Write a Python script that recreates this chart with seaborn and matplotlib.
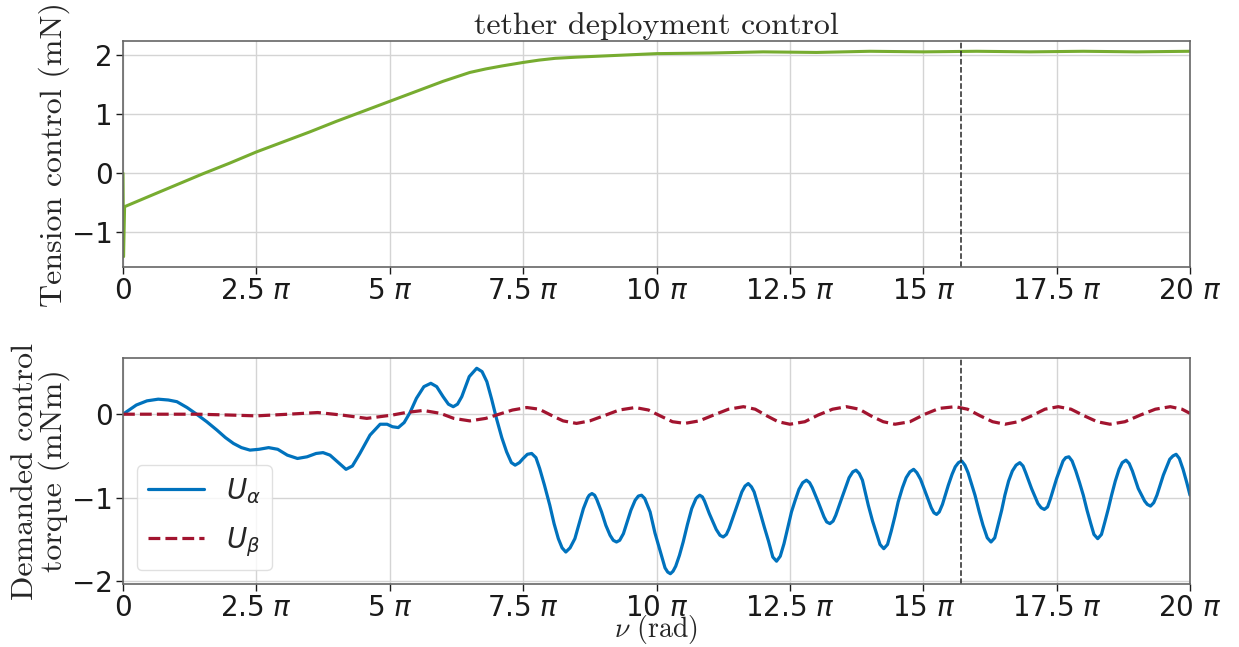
import numpy as np
import pandas as pd
import matplotlib
matplotlib.use("Agg")
import matplotlib.pyplot as plt
import seaborn as sns

PI = np.pi

# ---- data (x in multiples of pi) ----
tension_x = [0.0, 0.01, 0.03, 0.5, 1.0, 1.5, 2.0, 2.5, 3.0, 3.5, 4.0, 4.5, 5.0,
             5.5, 6.0, 6.5, 6.8, 7.1, 7.5, 7.8, 8.1, 8.5, 9.0, 9.5, 10.0, 11.0,
             12.0, 13.0, 14.0, 15.0, 16.0, 17.0, 18.0, 19.0, 20.0]
tension_y = [0.0, -1.42, -0.57, -0.39, -0.20, -0.01, 0.17, 0.36, 0.53, 0.70,
             0.88, 1.05, 1.22, 1.39, 1.56, 1.71, 1.77, 1.82, 1.88, 1.92, 1.95,
             1.97, 1.99, 2.01, 2.03, 2.04, 2.06, 2.05, 2.07, 2.06, 2.07, 2.06,
             2.07, 2.06, 2.07]

ualpha_x = [0.00, 0.25, 0.45, 0.66, 0.85, 1.01, 1.20, 1.38, 1.57, 1.76, 1.92,
            2.07, 2.22, 2.38, 2.55, 2.73, 2.90, 3.08, 3.27, 3.45, 3.62, 3.75,
            3.88, 4.02, 4.18, 4.30, 4.44, 4.63, 4.82, 4.95, 5.05, 5.16, 5.27,
            5.38, 5.50, 5.64, 5.77, 5.88, 6.00, 6.10, 6.19, 6.27, 6.35, 6.49,
            6.63, 6.73, 6.82, 6.91, 7.00, 7.10, 7.19, 7.28, 7.35, 7.43, 7.50,
            7.58, 7.66, 7.74, 7.81, 7.90, 8.00, 8.08, 8.16, 8.23, 8.30, 8.38,
            8.47, 8.55, 8.63, 8.71, 8.74, 8.79, 8.84, 8.88, 8.97, 9.05, 9.13,
            9.19, 9.25, 9.31, 9.38, 9.44, 9.52, 9.60, 9.66, 9.72, 9.78, 9.88,
            9.97, 10.06, 10.16, 10.21, 10.26, 10.31, 10.36, 10.43, 10.50, 10.58,
            10.66, 10.74, 10.77, 10.81, 10.86, 10.90, 10.99, 11.12, 11.19, 11.25,
            11.31, 11.36, 11.47, 11.60, 11.66, 11.72, 11.78, 11.83, 11.94, 12.02,
            12.10, 12.18, 12.25, 12.32, 12.39, 12.53, 12.60, 12.67, 12.74, 12.81,
            12.87, 12.92, 13.03, 13.14, 13.19, 13.25, 13.31, 13.36, 13.47, 13.61,
            13.68, 13.74, 13.80, 13.86, 13.97, 14.05, 14.12, 14.19, 14.26, 14.33,
            14.40, 14.47, 14.53, 14.61, 14.68, 14.75, 14.82, 14.88, 14.95, 15.05,
            15.15, 15.20, 15.25, 15.30, 15.36, 15.47, 15.54, 15.60, 15.66, 15.72,
            15.78, 15.84, 15.97, 16.05, 16.12, 16.20, 16.27, 16.34, 16.40, 16.47,
            16.53, 16.60, 16.67, 16.74, 16.81, 16.87, 16.92, 17.03, 17.15, 17.21,
            17.27, 17.33, 17.38, 17.50, 17.62, 17.67, 17.73, 17.79, 17.86, 17.93,
            18.00, 18.07, 18.14, 18.20, 18.27, 18.34, 18.40, 18.47, 18.53, 18.60,
            18.67, 18.73, 18.80, 18.86, 18.92, 19.03, 19.15, 19.20, 19.26, 19.32,
            19.38, 19.50, 19.62, 19.68, 19.74, 19.80, 19.87, 19.94, 20.00]
ualpha_y = [0.00, 0.11, 0.16, 0.18, 0.17, 0.15, 0.08, 0.00, -0.09, -0.19, -0.28,
            -0.35, -0.40, -0.43, -0.42, -0.40, -0.42, -0.49, -0.53, -0.51, -0.47,
            -0.46, -0.49, -0.57, -0.66, -0.62, -0.47, -0.25, -0.12, -0.12, -0.15,
            -0.16, -0.10, 0.02, 0.19, 0.33, 0.37, 0.33, 0.21, 0.12, 0.09, 0.12,
            0.21, 0.45, 0.55, 0.51, 0.39, 0.18, -0.05, -0.28, -0.45, -0.58,
            -0.61, -0.58, -0.53, -0.48, -0.47, -0.52, -0.65, -0.85, -1.09,
            -1.31, -1.49, -1.60, -1.65, -1.60, -1.49, -1.31, -1.13, -1.00,
            -0.97, -0.95, -0.97, -1.02, -1.17, -1.33, -1.45, -1.51, -1.53,
            -1.51, -1.43, -1.31, -1.15, -1.03, -0.98, -0.97, -1.01, -1.17,
            -1.42, -1.62, -1.84, -1.89, -1.91, -1.88, -1.82, -1.69, -1.53,
            -1.32, -1.13, -1.01, -0.99, -0.97, -0.99, -1.04, -1.19, -1.38,
            -1.45, -1.47, -1.44, -1.37, -1.17, -0.93, -0.86, -0.83, -0.87,
            -0.93, -1.17, -1.35, -1.52, -1.71, -1.76, -1.70, -1.55, -1.17,
            -1.03, -0.90, -0.82, -0.79, -0.82, -0.88, -1.05, -1.23, -1.29,
            -1.31, -1.28, -1.21, -1.01, -0.76, -0.69, -0.67, -0.71, -0.79,
            -1.09, -1.28, -1.42, -1.56, -1.61, -1.56, -1.40, -1.22, -1.05,
            -0.88, -0.76, -0.69, -0.66, -0.70, -0.78, -0.95, -1.12, -1.18,
            -1.20, -1.17, -1.08, -0.85, -0.72, -0.63, -0.58, -0.56, -0.61,
            -0.70, -0.97, -1.17, -1.33, -1.48, -1.53, -1.48, -1.33, -1.15,
            -0.97, -0.80, -0.68, -0.61, -0.58, -0.62, -0.70, -0.89, -1.07,
            -1.12, -1.14, -1.11, -1.02, -0.77, -0.56, -0.52, -0.51, -0.56,
            -0.68, -0.82, -0.97, -1.15, -1.31, -1.44, -1.49, -1.44, -1.30,
            -1.13, -0.97, -0.80, -0.66, -0.58, -0.55, -0.59, -0.68, -0.89,
            -1.04, -1.08, -1.10, -1.06, -0.97, -0.73, -0.54, -0.50, -0.48,
            -0.53, -0.66, -0.82, -0.97]

ubeta_x = [0.0, 1.4, 2.0, 2.5, 3.1, 3.65, 4.1, 4.57, 5.05, 5.3, 5.63, 5.95, 6.2,
           6.5, 6.8, 7.05, 7.3, 7.57, 7.8, 8.05, 8.25, 8.5, 8.75, 9.05, 9.3, 9.6,
           9.85, 10.07, 10.3, 10.53, 10.8, 11.07, 11.35, 11.63, 11.85, 12.07,
           12.28, 12.5, 12.78, 13.03, 13.3, 13.56, 13.8, 14.02, 14.25, 14.47,
           14.75, 15.03, 15.3, 15.6, 15.83, 16.07, 16.3, 16.53, 16.78, 17.03,
           17.28, 17.53, 17.77, 18.02, 18.26, 18.5, 18.78, 19.07, 19.35, 19.63,
           19.85, 20.0]
ubeta_y = [0.0, 0.0, -0.01, -0.02, 0.0, 0.02, -0.01, -0.05, -0.01, 0.02, 0.045,
           0.01, -0.05, -0.08, -0.05, 0.0, 0.05, 0.08, 0.06, -0.02, -0.08, -0.11,
           -0.08, -0.01, 0.05, 0.08, 0.05, -0.02, -0.09, -0.11, -0.08, -0.01,
           0.06, 0.09, 0.06, -0.02, -0.09, -0.12, -0.09, -0.01, 0.06, 0.09, 0.06,
           -0.02, -0.09, -0.12, -0.09, 0.0, 0.07, 0.09, 0.06, -0.02, -0.09, -0.12,
           -0.09, -0.02, 0.06, 0.09, 0.06, -0.02, -0.09, -0.12, -0.09, -0.01,
           0.06, 0.09, 0.06, 0.01]

xtick_vals = [0, 2.5, 5, 7.5, 10, 12.5, 15, 17.5, 20]
xtick_labels = ["0", r"2.5 $\pi$", r"5 $\pi$", r"7.5 $\pi$", r"10 $\pi$",
                r"12.5 $\pi$", r"15 $\pi$", r"17.5 $\pi$", r"20 $\pi$"]
event_x = 15.7

title = "tether deployment control"
ylabel_top = "Tension control (mN)"
ylabel_bot = "Demanded control\ntorque (mNm)"
xlabel = r"$\nu$ (rad)"

GREEN = "#77AC30"
BLUE = "#0072BD"
RED = "#A2142F"

sns.set_style("whitegrid", {
    "axes.edgecolor": "0.4",
    "grid.color": "0.83",
    "xtick.bottom": True,
    "ytick.left": True,
    "xtick.color": "0.1",
    "ytick.color": "0.1",
})
plt.rcParams["font.family"] = ["DejaVu Sans"]
plt.rcParams["font.size"] = 20

df_t = pd.DataFrame({"nu": np.array(tension_x) * PI, "T": tension_y})
df_a = pd.DataFrame({"nu": np.array(ualpha_x) * PI, "U": ualpha_y})
df_b = pd.DataFrame({"nu": np.array(ubeta_x) * PI, "U": ubeta_y})

fig = plt.figure(figsize=(12.39, 6.47), dpi=100)
W, H = 1239, 647
ax1 = fig.add_axes([123 / W, 1 - 267 / H, 1067 / W, 226 / H])
ax2 = fig.add_axes([123 / W, 1 - 584 / H, 1067 / W, 226 / H])

sns.lineplot(data=df_t, x="nu", y="T", ax=ax1, color=GREEN, lw=2.2,
             estimator=None, sort=False)
sns.lineplot(data=df_a, x="nu", y="U", ax=ax2, color=BLUE, lw=2.3,
             estimator=None, sort=False, label=r"$U_\alpha$")
sns.lineplot(data=df_b, x="nu", y="U", ax=ax2, color=RED, lw=2.3,
             estimator=None, sort=False, linestyle="--", label=r"$U_\beta$")

for ax in (ax1, ax2):
    ax.set_xlim(0, 20 * PI)
    ax.set_xticks(np.array(xtick_vals) * PI)
    ax.set_xticklabels(xtick_labels)
    ax.tick_params(labelsize=20, length=5, width=1, pad=2.5)
    ax.axvline(event_x * PI, color="0.15", ls="--", lw=1.1)
    for s in ax.spines.values():
        s.set_linewidth(1.2)
    ax.grid(True, lw=1)

ax1.set_yticks([-1, 0, 1, 2])
ax2.set_yticks([-2, -1, 0])
ax1.set_title(title, fontfamily="cmr10", fontsize=23, pad=5)
ax1.set_ylabel(ylabel_top, fontfamily="cmr10", fontsize=23)
ax1.set_xlabel("")
ax2.set_ylabel(ylabel_bot, fontfamily="cmr10", fontsize=23, linespacing=0.95)
ax2.set_xlabel(xlabel, fontfamily="cmr10", fontsize=20, math_fontfamily="cm")
ax2.xaxis.set_label_coords(0.5, (584 - 646) / 226)
ax2.xaxis.label.set_verticalalignment("bottom")
ax1.yaxis.set_label_coords(-0.05, 0.5)
ax2.yaxis.set_label_coords(-0.05, 0.5)

ax2.legend(loc="lower left", fontsize=20, frameon=True, edgecolor="0.85",
           framealpha=0.8, labelspacing=0.7)

fig.savefig("out.png", dpi=100)
